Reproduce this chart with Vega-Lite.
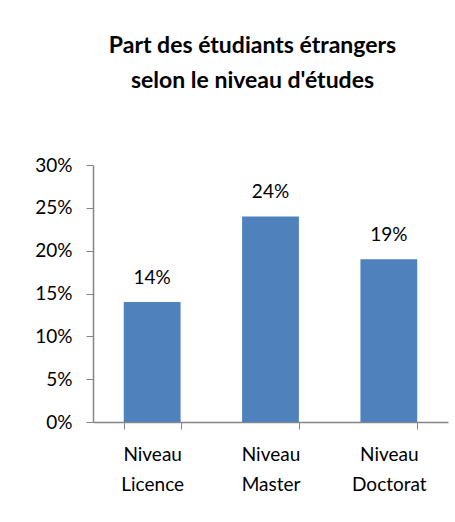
{
  "$schema": "https://vega.github.io/schema/vega-lite/v6.json",
  "width": 355,
  "height": 257,
  "autosize": {"type": "none"},
  "padding": {"left": 93, "top": 165, "right": 7, "bottom": 100},
  "background": "white",
  "title": {
    "text": ["Part des étudiants étrangers", "selon le niveau d'études"],
    "font": "Lato",
    "fontSize": 23,
    "fontWeight": "bold",
    "color": "#000000",
    "lineHeight": 35,
    "anchor": "middle",
    "dx": -18,
    "offset": 63
  },
  "data": {
    "values": [
      {"niveau": "Niveau Licence", "part": 0.14},
      {"niveau": "Niveau Master", "part": 0.24},
      {"niveau": "Niveau Doctorat", "part": 0.19}
    ]
  },
  "encoding": {
    "x": {
      "field": "niveau",
      "type": "nominal",
      "sort": null,
      "scale": {"paddingInner": 0.52, "paddingOuter": 0.26},
      "axis": {
        "title": null,
        "labelAngle": 0,
        "labelExpr": "isValid(datum.value) ? split(datum.value, ' ') : ''",
        "labelFont": "Lato",
        "labelFontSize": 19,
        "labelColor": "#000000",
        "labelLineHeight": 30,
        "labelPadding": 16,
        "tickBand": "extent",
        "tickSize": 7,
        "tickColor": "#868686",
        "domainColor": "#868686",
        "domainWidth": 1.5
      }
    },
    "y": {
      "field": "part",
      "type": "quantitative",
      "scale": {"domain": [0, 0.3]},
      "axis": {
        "title": null,
        "values": [0, 0.05, 0.1, 0.15, 0.2, 0.25, 0.3],
        "format": ".0%",
        "grid": false,
        "labelFont": "Lato",
        "labelFontSize": 19,
        "labelColor": "#000000",
        "labelPadding": 14,
        "tickSize": 7,
        "tickColor": "#868686",
        "domainColor": "#868686",
        "domainWidth": 1.5
      }
    }
  },
  "layer": [
    {"mark": {"type": "bar", "color": "#4F81BD"}},
    {
      "mark": {"type": "text", "font": "Lato", "fontSize": 19, "color": "#000000", "baseline": "alphabetic", "dy": -18},
      "encoding": {"text": {"field": "part", "type": "quantitative", "format": ".0%"}}
    }
  ],
  "config": {"view": {"stroke": null}}
}
